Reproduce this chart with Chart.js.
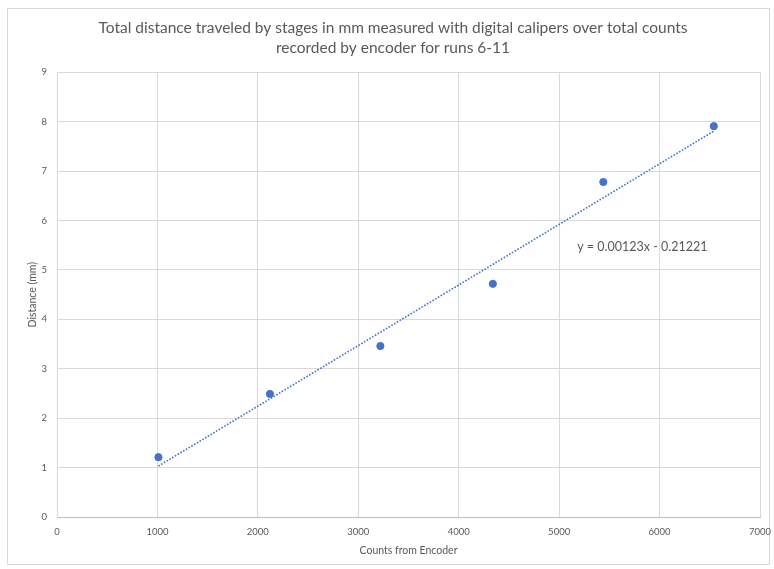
<!DOCTYPE html>
<html>
<head>
<meta charset="utf-8">
<script src="https://cdn.jsdelivr.net/npm/chart.js@4.4.1/dist/chart.umd.min.js"></script>
<style>
  html, body { margin: 0; padding: 0; background: #fff; }
  #wrap { width: 774px; height: 569px; position: relative; }
</style>
</head>
<body>
<div id="wrap"><canvas id="chart"></canvas></div>
<script>
// Runs 6-11: encoder counts vs measured distance (mm)
const counts = [1010, 2120, 3220, 4340, 5440, 6540];
const distances = [1.21, 2.49, 3.46, 4.72, 6.78, 7.91];

// Linear trendline as shown in the picture
const trendCounts = [1010, 6540];
const trendDistances = [1.03, 7.81];
const trendLabel = 'y = 0.00123x - 0.21221';

const titleLines = [
    'Total distance traveled by stages in mm measured with digital calipers over total counts',
    'recorded by encoder for runs 6-11'
];

const xTicks = [0, 1000, 2000, 3000, 4000, 5000, 6000, 7000];
const yTicks = [0, 1, 2, 3, 4, 5, 6, 7, 8, 9];

const blue = '#4472C4';
const textGray = '#595959';
const gridGray = '#d9d9d9';

// white background + outer frame, like the Excel chart area
const framePlugin = {
    id: 'frame',
    beforeDraw(chart) {
        const c = chart.ctx;
        c.save();
        c.fillStyle = '#fff';
        c.fillRect(0, 0, chart.width, chart.height);
        c.strokeStyle = '#d9d9d9';
        c.lineWidth = 1;
        c.strokeRect(7.5, 8.5, chart.width - 12, chart.height - 13);
        c.restore();
    }
};

// trendline equation text
const equationPlugin = {
    id: 'equation',
    afterDatasetsDraw(chart, args, opts) {
        const c = chart.ctx;
        const x = chart.scales.x.getPixelForValue(opts.atX);
        const y = chart.scales.y.getPixelForValue(opts.atY);
        c.save();
        c.font = '12.5px Lato';
        c.fillStyle = textGray;
        c.textAlign = 'left';
        c.textBaseline = 'middle';
        c.fillText(trendLabel, x, y);
        c.restore();
    }
};

new Chart(document.getElementById('chart'), {
    type: 'scatter',
    data: {
        datasets: [
            {
                label: 'Distance',
                data: counts.map((c, i) => ({ x: c, y: distances[i] })),
                backgroundColor: blue,
                borderColor: blue,
                pointRadius: 3.6,
                pointHoverRadius: 3.6,
                order: 1
            },
            {
                label: 'Linear (Distance)',
                type: 'line',
                data: trendCounts.map((c, i) => ({ x: c, y: trendDistances[i] })),
                borderColor: blue,
                borderWidth: 1.6,
                borderDash: [1.6, 1.6],
                pointRadius: 0,
                fill: false,
                order: 2
            }
        ]
    },
    options: {
        responsive: true,
        maintainAspectRatio: false,
        animation: false,
        events: [],
        layout: {
            padding: { left: 26, right: 14, top: 0, bottom: 12 }
        },
        plugins: {
            legend: { display: false },
            tooltip: { enabled: false },
            title: {
                display: true,
                text: titleLines,
                color: textGray,
                font: { family: 'Lato', size: 15.5, weight: 'normal', lineHeight: 1.3 },
                padding: { top: 18, bottom: 14 }
            },
            equation: { atX: 5180, atY: 5.47 }
        },
        scales: {
            x: {
                type: 'linear',
                min: 0,
                max: 7000,
                afterBuildTicks: s => { s.ticks = xTicks.map(v => ({ value: v })); },
                grid: { color: gridGray, drawTicks: false },
                border: { color: '#bfbfbf' },
                ticks: {
                    color: textGray,
                    padding: 9,
                    font: { family: 'Lato', size: 9.5 },
                    callback: v => String(v)
                },
                title: {
                    display: true,
                    text: 'Counts from Encoder',
                    color: textGray,
                    font: { family: 'Lato', size: 10.5 },
                    padding: { top: 2, bottom: 0 }
                },
                afterFit: s => { s.height = 40; s.paddingLeft = 0; s.paddingRight = 0; }
            },
            y: {
                type: 'linear',
                min: 0,
                max: 9,
                afterBuildTicks: s => { s.ticks = yTicks.map(v => ({ value: v })); },
                grid: { color: gridGray, drawTicks: false },
                border: { color: gridGray },
                ticks: {
                    color: textGray,
                    padding: 10,
                    font: { family: 'Lato', size: 9.5 },
                    callback: v => String(v)
                },
                title: {
                    display: true,
                    text: 'Distance (mm)',
                    color: textGray,
                    font: { family: 'Lato', size: 10.5 },
                    padding: { top: 0, bottom: 0 }
                },
                afterFit: s => { s.width = 31; }
            }
        }
    },
    plugins: [framePlugin, equationPlugin]
});
</script>
</body>
</html>
